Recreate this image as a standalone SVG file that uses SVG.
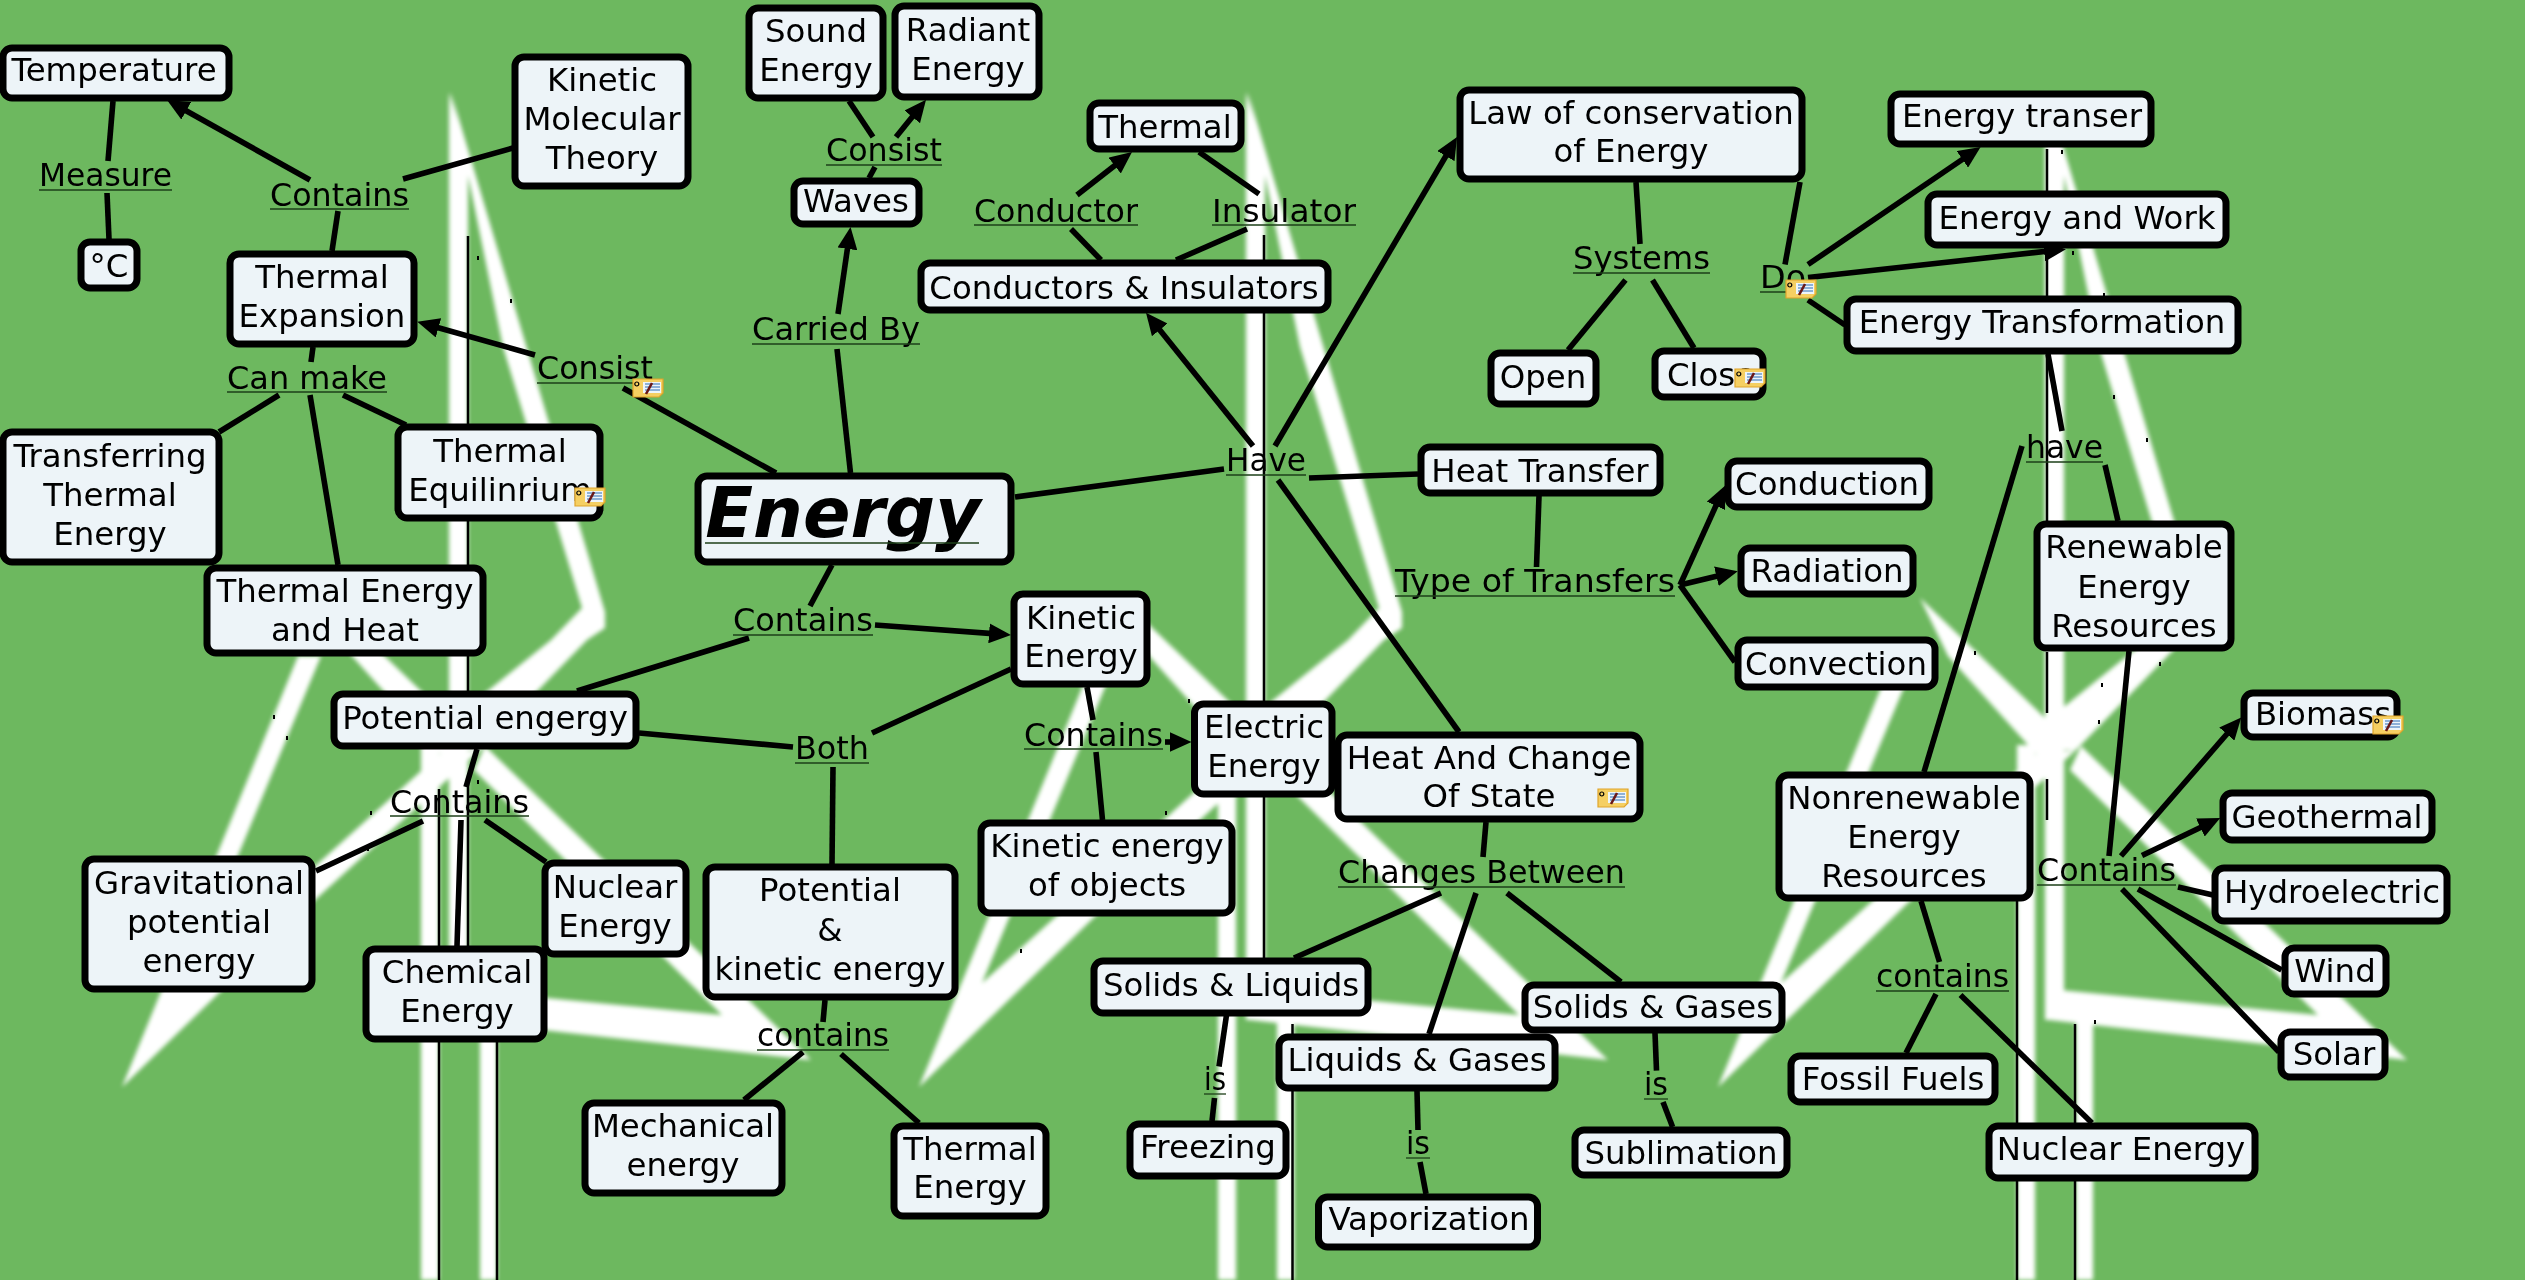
<svg xmlns="http://www.w3.org/2000/svg" xmlns:xlink="http://www.w3.org/1999/xlink" width="2525" height="1280" viewBox="0 0 2525 1280">
<style>
.n{fill:#edf4f8;stroke:#000;stroke-width:7}
text{font-family:"DejaVu Sans",sans-serif;font-size:32.4px;text-anchor:middle;fill:#000}
.big{font-size:70px;font-weight:bold;font-style:italic}
.u{stroke:#1c3f18;stroke-width:1.3}
#connectors line{stroke:#000;stroke-width:5.6}
.a{marker-end:url(#arr)}
.bk{stroke:#000;stroke-width:2.5;fill:none}
</style>
<defs>
<marker id="arr" markerUnits="userSpaceOnUse" markerWidth="22" markerHeight="20" viewBox="0 0 22 20" refX="14" refY="10" orient="auto"><path d="M0,0L22,10L0,20Z" fill="#000"/></marker>
<filter id="soft" x="-5%" y="-5%" width="110%" height="110%"><feGaussianBlur stdDeviation="2.2"/></filter>
<g id="tb" fill="#fff">
<path d="M451,92L605,612L605,628L587,640L480,750L449,750L449,722L551,640L582,608L503,347Z"/>
<path d="M449,92L468,160L468,1020L449,1020Z"/>
<rect x="421" y="745" width="18" height="535"/>
<rect x="480" y="1015" width="17" height="265"/>
<path d="M324,598L470,738L450,765L352,656Z"/>
<path d="M122,1087L298,656L321,656L185,983L440,754L480,750L316,899Z"/>
<path d="M485,746L811,1060L453,1020L453,989L722,1015L474,770Z"/>
</g>
<g id="note">
<path d="M0,0H30V14L26,18H0Z" fill="#f5cf62" stroke="#dfa42a" stroke-width="1.2"/>
<rect x="10" y="3" width="18" height="11" fill="#eef5fa"/>
<path d="M12,5H27M12,8H27M12,11H27" stroke="#2f6fb5" stroke-width="1.1"/>
<path d="M13,15L19,4" stroke="#6a1818" stroke-width="2.6"/>
<circle cx="3.8" cy="5" r="2" fill="none" stroke="#000" stroke-width="1.2"/>
</g>
</defs>
<rect id="bg" width="2525" height="1280" fill="#6db85f"/>
<g id="background">
<g filter="url(#soft)">
<use xlink:href="#tb" href="#tb"/>
<use xlink:href="#tb" href="#tb" transform="translate(797)"/>
<use xlink:href="#tb" href="#tb" transform="translate(1596)"/>
</g>
<path class="bk" d="M468,236V691M468,779V946M439,789V1280M497,1020V1280M1264,235V958M1292.5,1024V1280M2047,149V521M2047,652V713M2047,779V820M2017,901V1280M2075,1024V1280"/>
<path d="M477,256h2v4h-2zM510,299h2v4h-2zM273,715h2v4h-2zM286,736h2v4h-2zM370,811h2v4h-2zM367,847h2v4h-2zM477,780h2v4h-2zM1188,699h2v4h-2zM1165,811h2v4h-2zM1020,949h2v4h-2zM2061,150h2v4h-2zM2072,251h2v4h-2zM2103,293h2v4h-2zM2113,395h2v4h-2zM2146,438h2v4h-2zM1974,651h2v4h-2zM2159,662h2v4h-2zM2101,683h2v4h-2zM2098,720h2v4h-2zM2094,1020h2v4h-2z" fill="#000"/>
</g>
<g id="connectors">
<line x1="113" y1="101" x2="108" y2="161"/>
<line x1="107" y1="193" x2="109" y2="239"/>
<line class="a" x1="310" y1="180" x2="174" y2="104"/>
<line x1="513" y1="148" x2="403" y2="179"/>
<line x1="338" y1="211" x2="332" y2="251"/>
<line x1="313" y1="347" x2="311" y2="362"/>
<line x1="279" y1="395" x2="219" y2="432"/>
<line x1="310" y1="395" x2="338" y2="565"/>
<line x1="343" y1="395" x2="406" y2="425"/>
<line class="a" x1="535" y1="355" x2="425" y2="324"/>
<line x1="776" y1="473" x2="623" y2="388"/>
<line x1="477" y1="749" x2="466" y2="787"/>
<line x1="423" y1="821" x2="316" y2="871"/>
<line x1="461" y1="820" x2="457" y2="946"/>
<line x1="485" y1="820" x2="546" y2="862"/>
<line x1="749" y1="638" x2="577" y2="691"/>
<line x1="639" y1="733" x2="793" y2="747"/>
<line x1="832" y1="565" x2="810" y2="606"/>
<line class="a" x1="875" y1="625" x2="1003" y2="634.4"/>
<line x1="1015" y1="497" x2="1224" y2="469"/>
<line class="a" x1="1253" y1="446" x2="1151" y2="319"/>
<line class="a" x1="1275" y1="446" x2="1453" y2="144"/>
<line x1="1309" y1="478" x2="1418" y2="474"/>
<line x1="1278" y1="480" x2="1459" y2="732"/>
<line x1="850.5" y1="473" x2="837" y2="349"/>
<line class="a" x1="838" y1="314" x2="849.4" y2="235"/>
<line x1="869" y1="178" x2="875" y2="167"/>
<line x1="849" y1="101" x2="873" y2="137"/>
<line class="a" x1="896" y1="137" x2="921" y2="106"/>
<line x1="1101" y1="260" x2="1071" y2="229"/>
<line class="a" x1="1077" y1="195" x2="1125.7" y2="157"/>
<line x1="1199" y1="152" x2="1259" y2="194"/>
<line x1="1247" y1="229" x2="1176" y2="260"/>
<line x1="1636" y1="182" x2="1640" y2="244"/>
<line x1="1625.5" y1="280" x2="1568" y2="350"/>
<line x1="1652.5" y1="280" x2="1694" y2="348"/>
<line x1="1539" y1="496" x2="1536.5" y2="567"/>
<line class="a" x1="1680" y1="585" x2="1721.7" y2="493"/>
<line class="a" x1="1680" y1="585" x2="1730" y2="573"/>
<line x1="1680" y1="585" x2="1735" y2="662"/>
<line x1="872" y1="733" x2="1011" y2="669"/>
<line x1="833" y1="767" x2="832" y2="864"/>
<line x1="1087" y1="687" x2="1093" y2="720"/>
<line class="a" x1="1165" y1="742" x2="1183.5" y2="742"/>
<line x1="1096" y1="752" x2="1102.5" y2="820"/>
<line x1="825" y1="1000" x2="823" y2="1022"/>
<line x1="841" y1="1054" x2="919" y2="1123"/>
<line x1="803" y1="1052" x2="744" y2="1100"/>
<line x1="1486" y1="822" x2="1483" y2="857"/>
<line x1="1441" y1="893" x2="1294" y2="958"/>
<line x1="1476" y1="893" x2="1429" y2="1034"/>
<line x1="1507" y1="893" x2="1621" y2="982"/>
<line x1="1226.5" y1="1015" x2="1219" y2="1066.5"/>
<line x1="1214.5" y1="1098" x2="1212" y2="1121"/>
<line x1="1417" y1="1091" x2="1418" y2="1130"/>
<line x1="1420" y1="1162" x2="1426" y2="1194"/>
<line x1="1655" y1="1033" x2="1656.5" y2="1070.6"/>
<line x1="1663" y1="1102" x2="1672.6" y2="1127"/>
<line x1="1800" y1="182" x2="1785" y2="264.5"/>
<line class="a" x1="1808" y1="264.5" x2="1974" y2="151.5"/>
<line class="a" x1="1808" y1="277.5" x2="2058" y2="250"/>
<line x1="1808" y1="300" x2="1845" y2="325"/>
<line x1="2048" y1="354" x2="2062" y2="431"/>
<line x1="2022" y1="446" x2="1924" y2="772"/>
<line x1="2105" y1="465" x2="2118" y2="521"/>
<line x1="2129" y1="651" x2="2109" y2="856"/>
<line class="a" x1="2121" y1="856" x2="2236" y2="723.5"/>
<line class="a" x1="2142" y1="855.5" x2="2213" y2="821.5"/>
<line x1="2178" y1="887" x2="2213" y2="895"/>
<line x1="2138" y1="889" x2="2281.6" y2="970"/>
<line x1="2122" y1="889" x2="2279" y2="1052"/>
<line x1="1921" y1="901" x2="1939.5" y2="962"/>
<line x1="1936" y1="994" x2="1906" y2="1053"/>
<line x1="1960.5" y1="995" x2="2092" y2="1123"/>
</g>
<g id="n-temperature"><rect class="n" x="3" y="48" width="226" height="50" rx="9"/><text x="114" y="81">Temperature</text></g>
<g id="n-celsius"><rect class="n" x="81" y="242" width="56" height="46" rx="9"/><text x="109" y="277">°C</text></g>
<g id="n-kmt"><rect class="n" x="515" y="57" width="173" height="129" rx="9"/><text x="602" y="91">Kinetic</text><text x="602" y="130">Molecular</text><text x="602" y="169">Theory</text></g>
<g id="n-expansion"><rect class="n" x="230" y="254" width="184" height="90" rx="9"/><text x="322" y="288">Thermal</text><text x="322" y="327">Expansion</text></g>
<g id="n-transferring"><rect class="n" x="3" y="432" width="216" height="130" rx="9"/><text x="110" y="467">Transferring</text><text x="110" y="506">Thermal</text><text x="110" y="545">Energy</text></g>
<g id="n-equilibrium"><rect class="n" x="398" y="427" width="202" height="91" rx="9"/><text x="500" y="462">Thermal</text><text x="500" y="501">Equilinrium</text></g>
<g id="n-heat"><rect class="n" x="207" y="568" width="276" height="85" rx="9"/><text x="345" y="602">Thermal Energy</text><text x="345" y="641">and Heat</text></g>
<g id="n-energy"><rect class="n" x="698" y="476" width="313" height="86" rx="9"/><text class="big" x="843" y="537">Energy</text><line class="u" x1="705" y1="543" x2="979" y2="543"/></g>
<g id="n-potential"><rect class="n" x="334" y="694" width="302" height="52" rx="9"/><text x="485" y="729">Potential engergy</text></g>
<g id="n-gravitational"><rect class="n" x="85" y="859" width="227" height="130" rx="9"/><text x="199" y="894">Gravitational</text><text x="199" y="933">potential</text><text x="199" y="972">energy</text></g>
<g id="n-nuclear"><rect class="n" x="545" y="863" width="141" height="91" rx="9"/><text x="615" y="898">Nuclear</text><text x="615" y="937">Energy</text></g>
<g id="n-chemical"><rect class="n" x="366" y="949" width="178" height="90" rx="9"/><text x="457" y="983">Chemical</text><text x="457" y="1022">Energy</text></g>
<g id="n-pk"><rect class="n" x="706" y="867" width="249" height="130" rx="9"/><text x="830" y="901">Potential</text><text x="830" y="941">&amp;</text><text x="830" y="980">kinetic energy</text></g>
<g id="n-mechanical"><rect class="n" x="585" y="1103" width="197" height="90" rx="9"/><text x="683" y="1137">Mechanical</text><text x="683" y="1176">energy</text></g>
<g id="n-radiant"><rect class="n" x="895" y="6" width="144" height="91" rx="9"/><text x="968" y="41">Radiant</text><text x="968" y="80">Energy</text></g>
<g id="n-sound"><rect class="n" x="749" y="8" width="134" height="90" rx="9"/><text x="816" y="42">Sound</text><text x="816" y="81">Energy</text></g>
<g id="n-waves"><rect class="n" x="794" y="181" width="125" height="43" rx="9"/><text x="856" y="212">Waves</text></g>
<g id="n-thermal"><rect class="n" x="1090" y="103" width="151" height="46" rx="9"/><text x="1165" y="138">Thermal</text></g>
<g id="n-ci"><rect class="n" x="921" y="263" width="407" height="47" rx="9"/><text x="1124" y="299">Conductors &amp; Insulators</text></g>
<g id="n-law"><rect class="n" x="1460" y="90" width="342" height="89" rx="9"/><text x="1631" y="124">Law of conservation</text><text x="1631" y="162">of Energy</text></g>
<g id="n-open"><rect class="n" x="1491" y="353" width="105" height="51" rx="9"/><text x="1543" y="388">Open</text></g>
<g id="n-close"><rect class="n" x="1655" y="351" width="108" height="46" rx="9"/><text x="1711" y="386">Close</text></g>
<g id="n-transfer"><rect class="n" x="1421" y="447" width="239" height="46" rx="9"/><text x="1540" y="482">Heat Transfer</text></g>
<g id="n-kinetic"><rect class="n" x="1014" y="594" width="133" height="90" rx="9"/><text x="1081" y="629">Kinetic</text><text x="1081" y="667">Energy</text></g>
<g id="n-electric"><rect class="n" x="1194.5" y="704" width="137.5" height="90" rx="9"/><text x="1264" y="738">Electric</text><text x="1264" y="777">Energy</text></g>
<g id="n-state"><rect class="n" x="1338" y="735" width="302" height="84" rx="9"/><text x="1489" y="769">Heat And Change</text><text x="1489" y="807">Of State</text></g>
<g id="n-objects"><rect class="n" x="981" y="823" width="251" height="90" rx="9"/><text x="1107" y="857">Kinetic energy</text><text x="1107" y="896">of objects</text></g>
<g id="n-sl"><rect class="n" x="1094" y="961" width="274" height="52" rx="9"/><text x="1231" y="996">Solids &amp; Liquids</text></g>
<g id="n-sg"><rect class="n" x="1525" y="985" width="257" height="45" rx="9"/><text x="1653" y="1018">Solids &amp; Gases</text></g>
<g id="n-lg"><rect class="n" x="1279" y="1037" width="276" height="51" rx="9"/><text x="1417" y="1071">Liquids &amp; Gases</text></g>
<g id="n-freezing"><rect class="n" x="1130" y="1124" width="156" height="52" rx="9"/><text x="1208" y="1158">Freezing</text></g>
<g id="n-thermalenergy"><rect class="n" x="894" y="1126" width="152" height="90" rx="9"/><text x="970" y="1160">Thermal</text><text x="970" y="1198">Energy</text></g>
<g id="n-vapor"><rect class="n" x="1318.5" y="1197" width="219" height="50" rx="9"/><text x="1429" y="1230">Vaporization</text></g>
<g id="n-sublimation"><rect class="n" x="1575" y="1130" width="212" height="45" rx="9"/><text x="1681" y="1164">Sublimation</text></g>
<g id="n-etranser"><rect class="n" x="1891" y="94" width="260" height="50" rx="9"/><text x="2022" y="127">Energy transer</text></g>
<g id="n-ework"><rect class="n" x="1928" y="194" width="298" height="51" rx="9"/><text x="2077" y="229">Energy and Work</text></g>
<g id="n-etrans"><rect class="n" x="1847" y="299" width="391" height="52" rx="9"/><text x="2042" y="333">Energy Transformation</text></g>
<g id="n-conduction"><rect class="n" x="1728" y="461" width="201" height="46" rx="9"/><text x="1827" y="495">Conduction</text></g>
<g id="n-radiation"><rect class="n" x="1741" y="548" width="172" height="46" rx="9"/><text x="1827" y="582">Radiation</text></g>
<g id="n-renewable"><rect class="n" x="2037" y="524" width="194" height="124" rx="9"/><text x="2134" y="558">Renewable</text><text x="2134" y="598">Energy</text><text x="2134" y="637">Resources</text></g>
<g id="n-convection"><rect class="n" x="1738" y="640" width="197" height="47" rx="9"/><text x="1836" y="675">Convection</text></g>
<g id="n-biomass"><rect class="n" x="2244" y="693" width="153" height="44" rx="9"/><text x="2323" y="725">Biomass</text></g>
<g id="n-geothermal"><rect class="n" x="2223" y="793" width="209" height="47" rx="9"/><text x="2327" y="828">Geothermal</text></g>
<g id="n-hydro"><rect class="n" x="2215" y="868" width="232" height="53" rx="9"/><text x="2332" y="903">Hydroelectric</text></g>
<g id="n-wind"><rect class="n" x="2285" y="948" width="101" height="46" rx="9"/><text x="2335" y="982">Wind</text></g>
<g id="n-solar"><rect class="n" x="2281" y="1032" width="104" height="45" rx="9"/><text x="2334" y="1065">Solar</text></g>
<g id="n-nonrenewable"><rect class="n" x="1779" y="775" width="251" height="123" rx="9"/><text x="1904" y="809">Nonrenewable</text><text x="1904" y="848">Energy</text><text x="1904" y="887">Resources</text></g>
<g id="n-fossil"><rect class="n" x="1791" y="1056" width="204" height="46" rx="9"/><text x="1893" y="1090">Fossil Fuels</text></g>
<g id="n-nuclearenergy"><rect class="n" x="1989" y="1126" width="266" height="52" rx="9"/><text x="2121" y="1160">Nuclear Energy</text></g>
<g id="labels">
<g id="l-measure"><text x="105.5" y="186" textLength="133" lengthAdjust="spacingAndGlyphs">Measure</text><line class="u" x1="39" y1="190" x2="172" y2="190"/></g>
<g id="l-contains1"><text x="339.5" y="206" textLength="139" lengthAdjust="spacingAndGlyphs">Contains</text><line class="u" x1="270" y1="209" x2="409" y2="209"/></g>
<g id="l-canmake"><text x="307" y="389" textLength="160" lengthAdjust="spacingAndGlyphs">Can make</text><line class="u" x1="227" y1="392" x2="387" y2="392"/></g>
<g id="l-consist1"><text x="595" y="379" textLength="116" lengthAdjust="spacingAndGlyphs">Consist</text><line class="u" x1="537" y1="383" x2="653" y2="383"/></g>
<g id="l-contains2"><text x="459.5" y="813" textLength="139" lengthAdjust="spacingAndGlyphs">Contains</text><line class="u" x1="390" y1="816" x2="529" y2="816"/></g>
<g id="l-contains3"><text x="803" y="631" textLength="140" lengthAdjust="spacingAndGlyphs">Contains</text><line class="u" x1="733" y1="635" x2="873" y2="635"/></g>
<g id="l-contains4"><text x="1093.5" y="746" textLength="139" lengthAdjust="spacingAndGlyphs">Contains</text><line class="u" x1="1024" y1="749" x2="1163" y2="749"/></g>
<g id="l-contains5"><text x="2106.5" y="881" textLength="139" lengthAdjust="spacingAndGlyphs">Contains</text><line class="u" x1="2037" y1="885" x2="2176" y2="885"/></g>
<g id="l-contains6"><text x="823" y="1046" textLength="132" lengthAdjust="spacingAndGlyphs">contains</text><line class="u" x1="757" y1="1050" x2="889" y2="1050"/></g>
<g id="l-contains7"><text x="1942.5" y="987" textLength="133" lengthAdjust="spacingAndGlyphs">contains</text><line class="u" x1="1876" y1="991" x2="2009" y2="991"/></g>
<g id="l-both"><text x="832" y="759" textLength="74" lengthAdjust="spacingAndGlyphs">Both</text><line class="u" x1="795" y1="763" x2="869" y2="763"/></g>
<g id="l-consist2"><text x="884" y="161" textLength="116" lengthAdjust="spacingAndGlyphs">Consist</text><line class="u" x1="826" y1="165" x2="942" y2="165"/></g>
<g id="l-carried"><text x="836" y="340" textLength="168" lengthAdjust="spacingAndGlyphs">Carried By</text><line class="u" x1="752" y1="344" x2="920" y2="344"/></g>
<g id="l-conductor"><text x="1056" y="222" textLength="164" lengthAdjust="spacingAndGlyphs">Conductor</text><line class="u" x1="974" y1="225" x2="1138" y2="225"/></g>
<g id="l-insulator"><text x="1284" y="222" textLength="144" lengthAdjust="spacingAndGlyphs">Insulator</text><line class="u" x1="1212" y1="225" x2="1356" y2="225"/></g>
<g id="l-systems"><text x="1641.5" y="269" textLength="137" lengthAdjust="spacingAndGlyphs">Systems</text><line class="u" x1="1573" y1="273" x2="1710" y2="273"/></g>
<g id="l-have1"><text x="1266" y="471" textLength="80" lengthAdjust="spacingAndGlyphs">Have</text><line class="u" x1="1226" y1="475" x2="1306" y2="475"/></g>
<g id="l-types"><text x="1535" y="592" textLength="280" lengthAdjust="spacingAndGlyphs">Type of Transfers</text><line class="u" x1="1395" y1="596" x2="1675" y2="596"/></g>
<g id="l-changes"><text x="1481.5" y="883" textLength="287" lengthAdjust="spacingAndGlyphs">Changes Between</text><line class="u" x1="1338" y1="887" x2="1625" y2="887"/></g>
<g id="l-is1"><text x="1215" y="1090" textLength="22" lengthAdjust="spacingAndGlyphs">is</text><line class="u" x1="1204" y1="1094" x2="1226" y2="1094"/></g>
<g id="l-is2"><text x="1418" y="1154" textLength="24" lengthAdjust="spacingAndGlyphs">is</text><line class="u" x1="1406" y1="1158" x2="1430" y2="1158"/></g>
<g id="l-is3"><text x="1656" y="1095" textLength="24" lengthAdjust="spacingAndGlyphs">is</text><line class="u" x1="1644" y1="1099" x2="1668" y2="1099"/></g>
<g id="l-do"><text x="1783" y="288" textLength="46" lengthAdjust="spacingAndGlyphs">Do</text><line class="u" x1="1760" y1="292" x2="1806" y2="292"/></g>
<g id="l-have2"><text x="2064.5" y="458" textLength="77" lengthAdjust="spacingAndGlyphs">have</text><line class="u" x1="2026" y1="462" x2="2103" y2="462"/></g>
</g>
<g id="notes">
<use href="#note" xlink:href="#note" transform="translate(633,379)"/>
<use href="#note" xlink:href="#note" transform="translate(575,488)"/>
<use href="#note" xlink:href="#note" transform="translate(1786,280)"/>
<use href="#note" xlink:href="#note" transform="translate(1735,369)"/>
<use href="#note" xlink:href="#note" transform="translate(1598,789)"/>
<use href="#note" xlink:href="#note" transform="translate(2373,716)"/>
</g>
</svg>
